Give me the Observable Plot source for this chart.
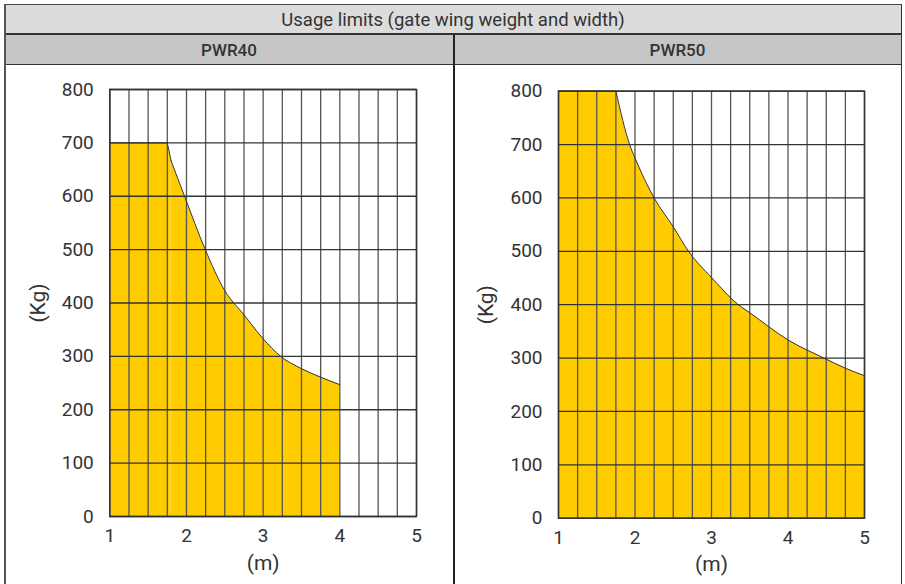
<!DOCTYPE html>
<html><head><meta charset="utf-8">
<script src="https://cdn.jsdelivr.net/npm/d3@7"></script>
<script src="https://cdn.jsdelivr.net/npm/@observablehq/plot@0.6"></script>
<style>
body{margin:0;background:#fff;font-family:Roboto,sans-serif;color:#333;}
#wrap{position:relative;width:905px;height:584px;overflow:hidden;background:#fff;}
.box{position:absolute;}
.txt{position:absolute;display:flex;align-items:center;justify-content:center;color:#333;font-family:Roboto,sans-serif;}
</style></head>
<body>
<div id="wrap">
  <div class="box" style="left:5px;top:4px;width:896px;height:30px;background:#dcdcdc;"></div>
  <div class="box" style="left:5px;top:34px;width:896px;height:30px;background:#c6c6c6;"></div>
  <div class="txt" style="left:5px;top:5px;width:896px;height:29px;font-size:18.5px;">Usage limits (gate wing weight and width)</div>
  <div class="txt" style="left:5px;top:35px;width:448px;height:29px;font-size:17px;font-weight:500;">PWR40</div>
  <div class="txt" style="left:454px;top:35px;width:447px;height:29px;font-size:17px;font-weight:500;">PWR50</div>
  <div class="box" style="left:4px;top:3.5px;width:898px;height:1.5px;background:#444;"></div>
  <div class="box" style="left:4px;top:33px;width:898px;height:1.5px;background:#333;"></div>
  <div class="box" style="left:4px;top:63.5px;width:898px;height:1.5px;background:#333;"></div>
  <div class="box" style="left:4px;top:4px;width:2px;height:580px;background:#555;"></div>
  <div class="box" style="left:900.5px;top:4px;width:1.5px;height:580px;background:#333;"></div>
  <div class="box" style="left:452.5px;top:34px;width:2px;height:550px;background:#222;"></div>
  <div id="left" class="box" style="left:6px;top:66px;"></div>
  <div id="right" class="box" style="left:455px;top:66px;"></div>
</div>
<script>
// Data
const pwr40Width  = [1, 1.75, 1.8, 1.975, 2.245, 2.5, 2.75, 3.0, 3.23, 3.5, 3.75, 4.0];
const pwr40Weight = [700, 700, 666, 600, 500, 423, 378, 333, 300, 277, 261, 247];
const pwr50Width  = [1, 1.75, 1.93, 2.0, 2.25, 2.5, 2.7, 3.0, 3.35, 3.5, 4.0, 4.47, 4.75, 5.0];
const pwr50Weight = [800, 800, 700, 675, 600, 546, 500, 451, 400, 385, 334, 300, 281, 267];
const xTicks = [1, 2, 3, 4, 5];
const yTicks = [0, 100, 200, 300, 400, 500, 600, 700, 800];
const gridX = d3.range(1, 5.001, 0.25);

function chart(xs, ys, bend, o) {
  const data = xs.map((x, i) => ({x, y: ys[i]}));
  const straight = data.slice(0, bend + 1);
  const curved = data.slice(bend);
  return Plot.plot({
    width: o.width, height: 518,
    marginLeft: o.ml, marginRight: o.mr, marginTop: o.mt, marginBottom: o.mb,
    x: {domain: [1, 5]},
    y: {domain: [0, 800]},
    style: {fontFamily: "Roboto, sans-serif", fontSize: "19px", color: "#333", background: "transparent", overflow: "visible"},
    marks: [
      Plot.areaY(straight, {x: "x", y: "y", fill: "#ffcc00"}),
      Plot.areaY(curved, {x: "x", y: "y", fill: "#ffcc00", curve: "monotone-x"}),
      Plot.ruleX(gridX, {stroke: "#555", strokeWidth: 1.3}),
      Plot.ruleY(yTicks, {stroke: "#333", strokeWidth: 1.3}),
      Plot.lineY(straight, {x: "x", y: "y", stroke: "#333", strokeWidth: 1}),
      Plot.lineY(curved, {x: "x", y: "y", stroke: "#333", strokeWidth: 1, curve: "monotone-x"}),
      Plot.frame({stroke: "#333", strokeWidth: 1.5}),
      Plot.axisX({ticks: xTicks, tickFormat: d => String(d), tickSize: 0, tickPadding: 12, fontSize: 19, label: null}),
      Plot.axisX({ticks: [], label: "(m)", labelAnchor: "center", labelArrow: "none", labelOffset: 53, fontSize: 21}),
      Plot.axisY({ticks: yTicks, tickSize: 0, tickPadding: 16, fontSize: 19, label: null}),
      Plot.axisY({ticks: [], label: "(Kg)", labelAnchor: "center", labelArrow: "none", labelOffset: 80, fontSize: 21})
    ]
  });
}

document.getElementById("left").appendChild(chart(pwr40Width, pwr40Weight, 2, {width: 447, ml: 103.3, mr: 37, mt: 23, mb: 68}));
document.getElementById("right").appendChild(chart(pwr50Width, pwr50Weight, 1, {width: 445, ml: 103, mr: 36, mt: 24.7, mb: 66.3}));
</script>
</body></html>
